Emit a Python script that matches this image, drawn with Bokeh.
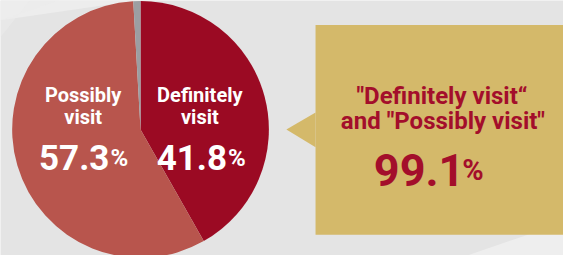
import math
from bokeh.plotting import figure
from bokeh.models import Range1d, ColumnDataSource
from bokeh.core.properties import value
from bokeh.embed import file_html
from bokeh.resources import INLINE

# ---- data ----
categories = ["Definitely visit", "Possibly visit", "Other"]
shares = [41.8, 57.3, 0.9]
slice_colors = ["#9B0A23", "#B8554D", "#9C9EA2"]
label_line1 = ["Definitely", "Possibly"]
label_line2 = ["visit", "visit"]
label_values = ["41.8", "57.3"]
combined_line1 = '"Definitely visit“'
combined_line2 = 'and "Possibly visit"'
combined_value = "99.1"

W, H = 563, 255
p = figure(width=W, height=H, output_backend="svg", toolbar_location=None,
           x_range=Range1d(0, 579), y_range=Range1d(0, 271),
           min_border=0, outline_line_color=None)
p.axis.visible = False
p.grid.visible = False
p.background_fill_color = "#E4E4E4"
p.border_fill_color = "#E4E4E4"

# subtle lighter diagonal bands in the background
p.patch([0, 0, 95, 140], [250, 271, 271, 271], color="#EDEDED", line_color=None)
p.patch([0, 0, 60, 30], [232, 250, 271, 271], color="#EBEBEB", line_color=None, alpha=0.6)
p.patch([480, 579, 579], [0, 0, 35], color="#EEEEEE", line_color=None)

# ---- pie ----
cx, cy, r = 144, 134, 132
total = sum(shares)
starts, ends = [], []
acc = 0.0
for v in shares:
    a0 = math.pi / 2 - acc / total * 2 * math.pi
    acc += v
    a1 = math.pi / 2 - acc / total * 2 * math.pi
    starts.append(a0)
    ends.append(a1)
src = ColumnDataSource(dict(x=[cx] * 3, y=[cy] * 3, start=starts, end=ends,
                            color=slice_colors, cat=categories))
p.wedge(x="x", y="y", radius=r, start_angle="start", end_angle="end",
        direction="clock", fill_color="color", line_color=None, source=src)

font = value("Roboto")
# slice labels
lx = [205, 85]
for i in range(2):
    p.text([lx[i]], [171], text=[label_line1[i]], text_font=font, text_font_style="bold",
           text_font_size="20px", text_color="white", text_align="center",
           text_baseline="alphabetic")
    p.text([lx[i]], [147], text=[label_line2[i]], text_font=font, text_font_style="bold",
           text_font_size="20px", text_color="white", text_align="center",
           text_baseline="alphabetic")
split_x = [233, 112]
for i in range(2):
    p.text([split_x[i]], [104], text=[label_values[i]], text_font=font, text_font_style="bold",
           text_font_size="35px", text_color="white", text_align="right",
           text_baseline="alphabetic")
    p.text([split_x[i] + 1], [104], text=["%"], text_font=font, text_font_style="bold",
           text_font_size="24px", text_color="white", text_align="left",
           text_baseline="alphabetic")

# ---- callout box ----
box_color = "#D4B96A"
p.quad(left=324, right=579, bottom=22, top=245, fill_color=box_color, line_color=None)
p.patch([294, 324, 324], [134, 152, 115], fill_color=box_color, line_color=None)

red = "#A30E2B"
p.text([454], [169], text=[combined_line1], text_font=font, text_font_style="bold",
       text_font_size="24px", text_color=red, text_align="center", text_baseline="alphabetic")
p.text([455], [143], text=[combined_line2], text_font=font, text_font_style="bold",
       text_font_size="24px", text_color=red, text_align="center", text_baseline="alphabetic")
p.text([477], [91], text=[combined_value], text_font=font, text_font_style="bold",
       text_font_size="45px", text_color=red, text_align="right", text_baseline="alphabetic")
p.text([475], [91], text=["%"], text_font=font, text_font_style="bold",
       text_font_size="29px", text_color=red, text_align="left", text_baseline="alphabetic")

open("out.html", "w").write(file_html(p, INLINE))
